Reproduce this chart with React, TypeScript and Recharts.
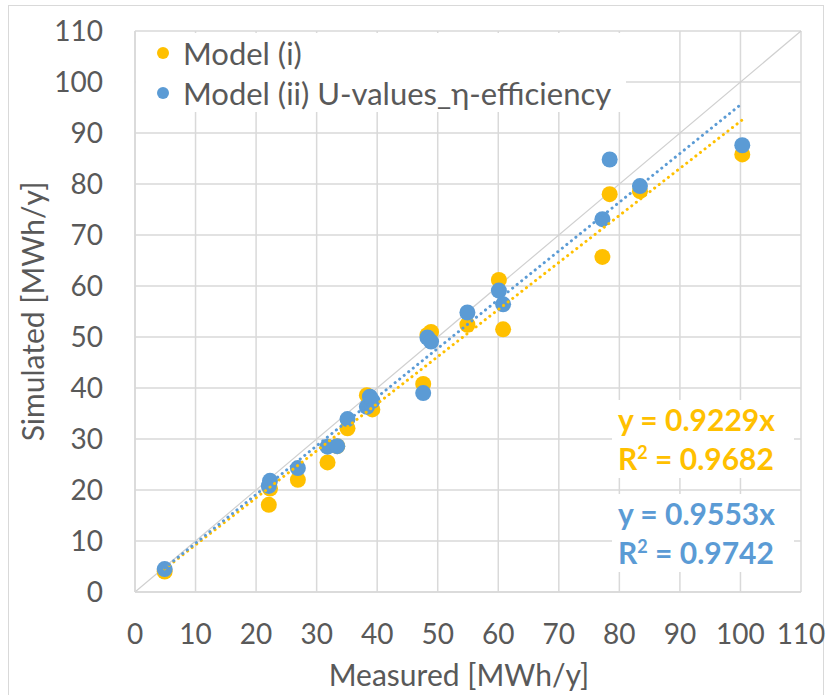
import React from "react";
import {
  CartesianGrid,
  ReferenceLine,
  Scatter,
  ScatterChart,
  XAxis,
  YAxis,
} from "recharts";

const measured = [4.9, 22.1, 22.3, 26.9, 31.8, 33.4, 35.1, 38.3, 38.8, 39.2, 47.6, 48.3, 48.9, 54.9, 60.1, 60.8, 77.2, 78.4, 83.4, 100.3];
const modelI = [4.0, 17.1, 20.3, 22.0, 25.4, 28.6, 32.1, 38.6, 36.6, 35.8, 40.8, 50.4, 51.0, 52.4, 61.2, 51.5, 65.7, 78.0, 78.6, 85.8];
const modelII = [4.5, 20.8, 21.8, 24.3, 28.5, 28.6, 33.9, 36.3, 38.3, 37.5, 39.0, 49.9, 49.1, 54.8, 59.1, 56.4, 73.1, 84.8, 79.6, 87.6];
const ticks = [0, 10, 20, 30, 40, 50, 60, 70, 80, 90, 100, 110];
const seriesNames = ["Model (i)", "Model (ii) U-values_η-efficiency"];
const slopeI = 0.9229;
const slopeII = 0.9553;
const r2I = 0.9682;
const r2II = 0.9742;

const YELLOW = "#FFC000";
const BLUE = "#5B9BD5";
const GRID = "#D9D9D9";
const TEXT = "#595959";
const FONT = "Lato, 'Noto Sans', sans-serif";

const pointsI = measured.map((x, i) => ({ x, y: modelI[i] }));
const pointsII = measured.map((x, i) => ({ x, y: modelII[i] }));
const xMin = Math.min(...measured);
const xMax = Math.max(...measured);
const trendI = [xMin, xMax].map((x) => ({ x, y: slopeI * x }));
const trendII = [xMin, xMax].map((x) => ({ x, y: slopeII * x }));

const dot = (color: string) => (props: any) => (
  <circle cx={props.cx} cy={props.cy} r={8} fill={color} />
);

const noDot = () => <g />;

function LegendBox() {
  const colors = [YELLOW, BLUE];
  return (
    <div style={{ position: "absolute", left: 136, top: 33, background: "#fff", width: 490, height: 79, fontFamily: FONT }}>
      {seriesNames.map((name, i) => (
        <div key={name} style={{ display: "flex", alignItems: "center", height: 40, paddingLeft: 21 }}>
          <span style={{ width: 12, height: 12, borderRadius: 6, background: colors[i], marginRight: 14, flex: "none" }} />
          <span style={{ fontSize: 31, color: TEXT, lineHeight: "40px", whiteSpace: "nowrap" }}>{name}</span>
        </div>
      ))}
    </div>
  );
}

function Equation({ top, color, slope, r2 }: { top: number; color: string; slope: number; r2: number }) {
  return (
    <div
      style={{
        position: "absolute",
        left: 612,
        top,
        width: 176,
        background: "#fff",
        color,
        fontFamily: FONT,
        fontWeight: 700,
        fontSize: 30,
        lineHeight: "39px",
        paddingLeft: 6,
        whiteSpace: "nowrap",
      }}
    >
      <div>y = {slope.toFixed(4)}x</div>
      <div>
        R<sup style={{ fontSize: 18, lineHeight: 0 }}>2</sup> = {r2.toFixed(4)}
      </div>
    </div>
  );
}

export default function App() {
  return (
    <div style={{ position: "absolute", left: 0, top: 0, width: 827, height: 695, background: "#fff", overflow: "hidden" }}>
      <div style={{ position: "absolute", left: 8, top: 5, width: 814, height: 700, border: `1px solid ${GRID}` }} />
      <ScatterChart width={827} height={695} margin={{ top: 31, right: 26, bottom: 0, left: 0 }} style={{ position: "absolute", left: 0, top: 0 }}>
        <CartesianGrid stroke={GRID} strokeWidth={1.5} />
        <XAxis
          type="number"
          dataKey="x"
          domain={[0, 110]}
          ticks={ticks}
          height={103}
          tickSize={0}
          tickMargin={32}
          axisLine={{ stroke: GRID, strokeWidth: 1.5 }}
          tick={{ fontSize: 28, fill: TEXT, fontFamily: FONT }}
          label={{ value: "Measured [MWh/y]", position: "insideBottom", offset: 9, dx: -9, fontSize: 30, fill: TEXT, fontFamily: FONT }}
        />
        <YAxis
          type="number"
          dataKey="y"
          domain={[0, 110]}
          ticks={ticks}
          width={135}
          tickSize={0}
          tickMargin={32}
          axisLine={{ stroke: GRID, strokeWidth: 1.5 }}
          tick={{ fontSize: 28, fill: TEXT, fontFamily: FONT }}
          label={{ value: "Simulated [MWh/y]", angle: -90, position: "insideLeft", offset: 33, fontSize: 30, fill: TEXT, fontFamily: FONT, style: { textAnchor: "middle" } }}
        />
        <ReferenceLine segment={[{ x: 0, y: 0 }, { x: 110, y: 110 }]} stroke="#D0D0D0" strokeWidth={1.2} />
        <Scatter name={seriesNames[0]} data={pointsI} fill={YELLOW} shape={dot(YELLOW)} isAnimationActive={false} />
        <Scatter name={seriesNames[1]} data={pointsII} fill={BLUE} shape={dot(BLUE)} isAnimationActive={false} />
        <Scatter
          data={trendI}
          line={{ stroke: YELLOW, strokeWidth: 3, strokeDasharray: "0.1 5.7", strokeLinecap: "round" }}
          shape={noDot}
          legendType="none"
          isAnimationActive={false}
        />
        <Scatter
          data={trendII}
          line={{ stroke: BLUE, strokeWidth: 3, strokeDasharray: "0.1 5.7", strokeLinecap: "round" }}
          shape={noDot}
          legendType="none"
          isAnimationActive={false}
        />
      </ScatterChart>
      <LegendBox />
      <Equation top={400} color={YELLOW} slope={slopeI} r2={r2I} />
      <Equation top={494} color={BLUE} slope={slopeII} r2={r2II} />
    </div>
  );
}
